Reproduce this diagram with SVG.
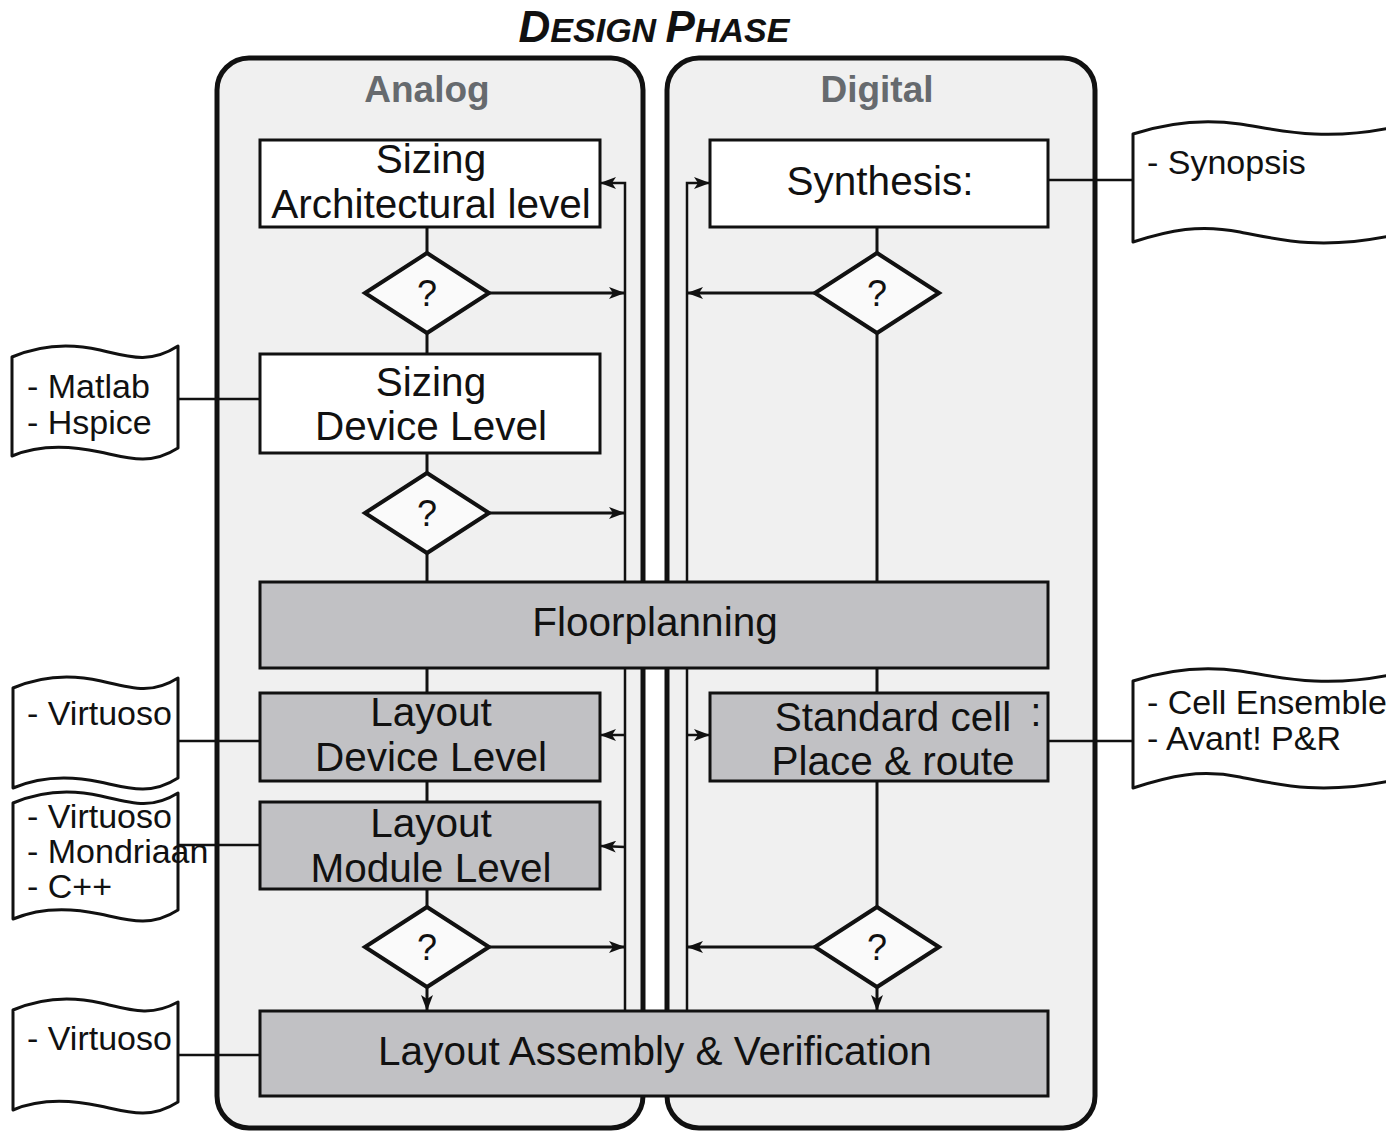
<svg xmlns="http://www.w3.org/2000/svg" width="1386" height="1131" viewBox="0 0 1386 1131">
  <style>
    .panel { fill: #f0f0f0; stroke: #111; stroke-width: 5; }
    .box { fill: #ffffff; stroke: #111; stroke-width: 3; }
    .gbox { fill: #c1c1c4; stroke: #111; stroke-width: 3; }
    .dia { fill: #fafafa; stroke: #111; stroke-width: 4; }
    .doc { fill: #ffffff; stroke: #111; stroke-width: 3; stroke-linejoin: round; }
    .lbl { font-family: "Liberation Sans", Arial, sans-serif; font-size: 40.5px; fill: #111; text-anchor: middle; }
    .q { font-family: "Liberation Sans", Arial, sans-serif; font-size: 36px; fill: #111; text-anchor: middle; }
    .doct { font-family: "Liberation Sans", Arial, sans-serif; font-size: 34px; fill: #111; }
    .head { font-family: "Liberation Sans", Arial, sans-serif; font-size: 37px; font-weight: bold; fill: #666a6e; text-anchor: middle; }
    .title { font-family: "Liberation Sans", Arial, sans-serif; font-weight: bold; font-style: italic; fill: #111; }
    .ln { fill: none; stroke: #111; stroke-width: 3; }
    .thin { fill: none; stroke: #111; stroke-width: 2.5; }
    .tool { fill: none; stroke: #111; stroke-width: 2.5; }
  </style>
  <defs>
    <marker id="arr" viewBox="0 0 16 12" refX="15" refY="6" markerWidth="16" markerHeight="12" markerUnits="userSpaceOnUse" orient="auto">
      <path d="M0,0 L16,6 L0,12 L4,6 Z" fill="#111"/>
    </marker>
  </defs>

  <!-- title -->
  <text class="title" x="654" y="42" text-anchor="middle"><tspan font-size="44">D</tspan><tspan font-size="34">ESIGN </tspan><tspan font-size="44">P</tspan><tspan font-size="34">HASE</tspan></text>

  <!-- swim lanes -->
  <g id="lane-analog">
    <rect class="panel" x="217" y="58" width="426" height="1070" rx="32" ry="32"/>
    <text class="head" x="427" y="102">Analog</text>
  </g>
  <g id="lane-digital">
    <rect class="panel" x="667" y="58" width="428" height="1070" rx="32" ry="32"/>
    <text class="head" x="877" y="102">Digital</text>
  </g>

  <!-- connectors -->
  <g id="connectors">
    <!-- analog main flow -->
    <line class="ln" x1="427" y1="227" x2="427" y2="253"/>
    <line class="ln" x1="427" y1="333" x2="427" y2="354"/>
    <line class="ln" x1="427" y1="453" x2="427" y2="473"/>
    <line class="ln" x1="427" y1="553" x2="427" y2="582"/>
    <line class="ln" x1="427" y1="668" x2="427" y2="693"/>
    <line class="ln" x1="427" y1="781" x2="427" y2="802"/>
    <line class="ln" x1="427" y1="889" x2="427" y2="907"/>
    <line class="ln" x1="427" y1="987" x2="427" y2="1010" marker-end="url(#arr)"/>
    <!-- analog feedback -->
    <line class="ln" x1="489" y1="293" x2="624" y2="293" marker-end="url(#arr)"/>
    <line class="ln" x1="489" y1="513" x2="624" y2="513" marker-end="url(#arr)"/>
    <line class="ln" x1="489" y1="947" x2="624" y2="947" marker-end="url(#arr)"/>
    <polyline class="thin" points="625,1011 625,183 601,183" marker-end="url(#arr)"/>
    <line class="thin" x1="625" y1="735" x2="601" y2="735" marker-end="url(#arr)"/>
    <line class="thin" x1="625" y1="847" x2="601" y2="846" marker-end="url(#arr)"/>
    <!-- digital main flow -->
    <line class="ln" x1="877" y1="227" x2="877" y2="253"/>
    <line class="ln" x1="877" y1="333" x2="877" y2="582"/>
    <line class="ln" x1="877" y1="668" x2="877" y2="693"/>
    <line class="ln" x1="877" y1="781" x2="877" y2="907"/>
    <line class="ln" x1="877" y1="987" x2="877" y2="1010" marker-end="url(#arr)"/>
    <!-- digital feedback -->
    <line class="ln" x1="815" y1="293" x2="688" y2="293" marker-end="url(#arr)"/>
    <line class="ln" x1="815" y1="947" x2="688" y2="947" marker-end="url(#arr)"/>
    <polyline class="thin" points="687,1011 687,183 709,183" marker-end="url(#arr)"/>
    <line class="thin" x1="687" y1="735" x2="709" y2="735" marker-end="url(#arr)"/>
    <!-- tool links -->
    <line class="tool" x1="178" y1="399" x2="260" y2="399"/>
    <line class="tool" x1="178" y1="741" x2="260" y2="741"/>
    <line class="tool" x1="178" y1="845" x2="260" y2="845"/>
    <line class="tool" x1="178" y1="1055" x2="260" y2="1055"/>
    <line class="tool" x1="1048" y1="180" x2="1133" y2="180"/>
    <line class="tool" x1="1048" y1="741" x2="1133" y2="741"/>
  </g>

  <!-- analog steps -->
  <g id="sizing-arch">
    <rect class="box" x="260" y="140" width="340" height="87"/>
    <text class="lbl" x="431" y="173">Sizing</text>
    <text class="lbl" x="431" y="218">Architectural level</text>
  </g>
  <g id="check-arch">
    <polygon class="dia" points="427,253 489,293 427,333 365,293"/>
    <text class="q" x="427" y="306">?</text>
  </g>
  <g id="sizing-device">
    <rect class="box" x="260" y="354" width="340" height="99"/>
    <text class="lbl" x="431" y="396">Sizing</text>
    <text class="lbl" x="431" y="440">Device Level</text>
  </g>
  <g id="check-device">
    <polygon class="dia" points="427,473 489,513 427,553 365,513"/>
    <text class="q" x="427" y="526">?</text>
  </g>
  <g id="floorplanning">
    <rect class="gbox" x="260" y="582" width="788" height="86"/>
    <text class="lbl" x="655" y="636">Floorplanning</text>
  </g>
  <g id="layout-device">
    <rect class="gbox" x="260" y="693" width="340" height="88"/>
    <text class="lbl" x="431" y="726">Layout</text>
    <text class="lbl" x="431" y="771">Device Level</text>
  </g>
  <g id="layout-module">
    <rect class="gbox" x="260" y="802" width="340" height="87"/>
    <text class="lbl" x="431" y="837">Layout</text>
    <text class="lbl" x="431" y="882">Module Level</text>
  </g>
  <g id="check-layout">
    <polygon class="dia" points="427,907 489,947 427,987 365,947"/>
    <text class="q" x="427" y="960">?</text>
  </g>
  <g id="assembly">
    <rect class="gbox" x="260" y="1011" width="788" height="85"/>
    <text class="lbl" x="655" y="1065">Layout Assembly &amp; Verification</text>
  </g>

  <!-- digital steps -->
  <g id="synthesis">
    <rect class="box" x="710" y="140" width="338" height="87"/>
    <text class="lbl" x="880" y="195">Synthesis:</text>
  </g>
  <g id="check-synth">
    <polygon class="dia" points="877,253 939,293 877,333 815,293"/>
    <text class="q" x="877" y="306">?</text>
  </g>
  <g id="place-route">
    <rect class="gbox" x="710" y="693" width="338" height="88"/>
    <text class="lbl" x="893" y="731">Standard cell</text>
    <text class="lbl" x="1036" y="726" font-size="30">:</text>
    <text class="lbl" x="893" y="775">Place &amp; route</text>
  </g>
  <g id="check-pr">
    <polygon class="dia" points="877,907 939,947 877,987 815,947"/>
    <text class="q" x="877" y="960">?</text>
  </g>

  <!-- tool documents -->
  <g id="doc-matlab">
    <path class="doc" d="M12,357 C40,345 70,343 100,350 S150,364 178,346 L178,448 C150,466 128,458 100,452 S40,444 12,456 Z"/>
    <text class="doct" x="27" y="398">- Matlab</text>
    <text class="doct" x="27" y="434">- Hspice</text>
  </g>
  <g id="doc-virtuoso-1">
    <path class="doc" d="M13,688 C41,676 71,674 101,681 S151,695 178,678 L178,778 C150,796 128,788 100,782 S41,776 13,788 Z"/>
    <text class="doct" x="27" y="725">- Virtuoso</text>
  </g>
  <g id="doc-virtuoso-2">
    <path class="doc" d="M13,803 C41,791 71,789 101,796 S151,810 178,793 L178,910 C150,928 128,920 100,914 S41,907 13,919 Z"/>
    <text class="doct" x="27" y="828" font-size="33">- Virtuoso</text>
    <text class="doct" x="27" y="863" font-size="33">- Mondriaan</text>
    <text class="doct" x="27" y="898" font-size="33">- C++</text>
  </g>
  <g id="doc-virtuoso-3">
    <path class="doc" d="M13,1010 C41,998 71,996 101,1003 S151,1017 178,1002 L178,1102 C150,1120 128,1112 100,1106 S41,1098 13,1110 Z"/>
    <text class="doct" x="27" y="1050">- Virtuoso</text>
  </g>
  <g id="doc-synopsis">
    <path class="doc" d="M1133,134 C1170,122 1205,119 1240,124 S1320,142 1390,128 L1390,236 C1320,250 1280,240 1240,232 S1170,230 1133,242 Z"/>
    <text class="doct" x="1147" y="174">- Synopsis</text>
  </g>
  <g id="doc-cell-ensemble">
    <path class="doc" d="M1133,681 C1170,669 1205,666 1240,671 S1320,689 1390,675 L1390,781 C1320,795 1280,785 1240,777 S1170,776 1133,788 Z"/>
    <text class="doct" x="1147" y="714">- Cell Ensemble</text>
    <text class="doct" x="1147" y="750">- Avant! P&amp;R</text>
  </g>
</svg>
